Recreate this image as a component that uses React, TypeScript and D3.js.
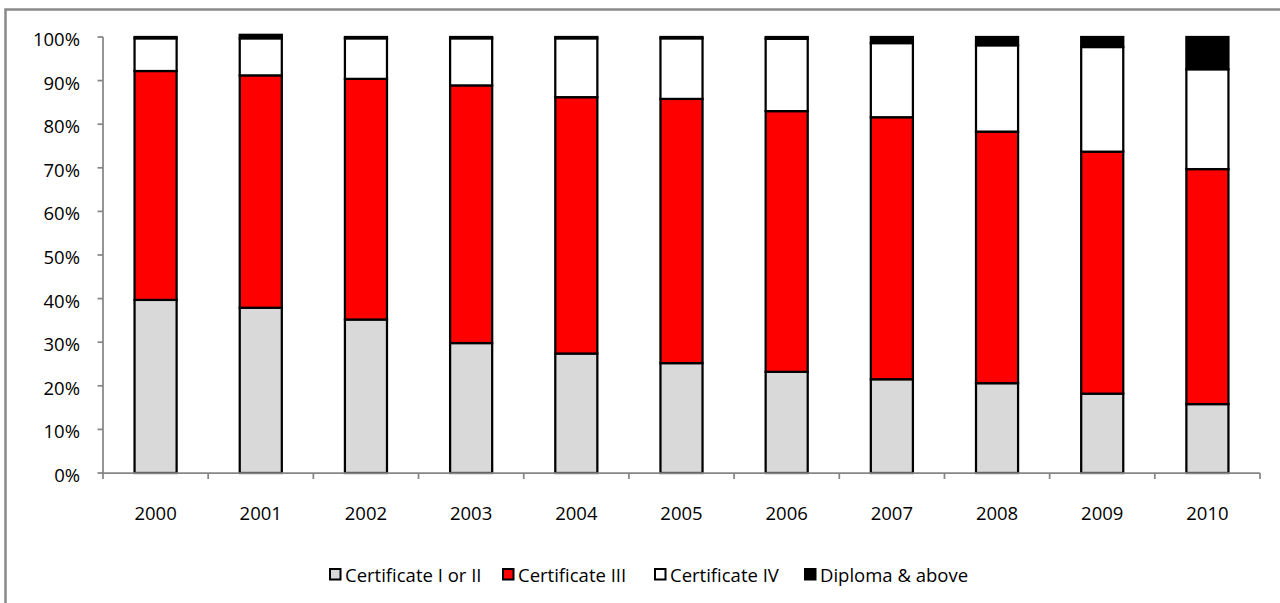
import React from "react";
import * as d3 from "d3";

// Share of qualifications by year (percent of total)
const years = ["2000", "2001", "2002", "2003", "2004", "2005", "2006", "2007", "2008", "2009", "2010"];
const certIorII = [39.7, 37.9, 35.2, 29.8, 27.4, 25.2, 23.2, 21.5, 20.6, 18.2, 15.8];
const certIII = [52.5, 53.3, 55.2, 59.1, 58.8, 60.6, 59.8, 60.1, 57.7, 55.5, 53.9];
const certIV = [7.5, 8.5, 9.3, 10.8, 13.5, 13.9, 16.6, 17.0, 19.8, 24.0, 22.9];
const diploma = [0.3, 0.8, 0.3, 0.3, 0.3, 0.3, 0.4, 1.4, 1.9, 2.3, 7.4];
const yTicks = [0, 10, 20, 30, 40, 50, 60, 70, 80, 90, 100];

const seriesNames = ["Certificate I or II", "Certificate III", "Certificate IV", "Diploma & above"];
const seriesColors = ["#D9D9D9", "#FF0000", "#FFFFFF", "#000000"];

const W = 1280;
const H = 603;
const FONT = "'Open Sans', sans-serif";
const AXIS = "#868686";

export default function App() {
  const rows = years.map((yr, i) => ({
    year: yr,
    [seriesNames[0]]: certIorII[i],
    [seriesNames[1]]: certIII[i],
    [seriesNames[2]]: certIV[i],
    [seriesNames[3]]: diploma[i],
  }));
  const stacked = d3.stack<any>().keys(seriesNames)(rows);

  const left = 103;
  const right = 1260;
  const bottom = 473;
  const top = 37;

  const x = d3.scaleBand<string>().domain(years).range([left, right]).paddingInner(0.6).paddingOuter(0.3);
  const y = d3.scaleLinear().domain([0, 100]).range([bottom, top]);
  const step = x.step();
  const boundaries = d3.range(years.length + 1).map((i) => left + i * step);

  const legendX = [330, 503, 655, 805];
  const legendY = 569;

  return (
    <svg width={W} height={H} style={{ position: "absolute", left: 0, top: 0, background: "#fff" }}>
      <rect x={5.5} y={9.5} width={1400} height={800} fill="#fff" stroke="#898989" strokeWidth={2.5} />

      {/* stacked bars */}
      {stacked.map((s, si) => (
        <g key={s.key}>
          {s.map((d, i) => (
            <rect
              key={i}
              x={x(years[i])}
              width={x.bandwidth()}
              y={y(d[1])}
              height={y(d[0]) - y(d[1])}
              fill={seriesColors[si]}
              stroke="#000"
              strokeWidth={2.25}
            />
          ))}
        </g>
      ))}

      {/* y axis */}
      <line x1={left} x2={left} y1={top} y2={bottom} stroke={AXIS} strokeWidth={1.75} />
      {yTicks.map((t) => (
        <g key={t}>
          <line x1={left - 5.5} x2={left} y1={y(t)} y2={y(t)} stroke={AXIS} strokeWidth={1.75} />
          <text x={80} y={y(t) + 9} textAnchor="end" fontFamily={FONT} fontSize={18.5} fill="#000">
            {t}%
          </text>
        </g>
      ))}

      {/* x axis */}
      <line x1={left} x2={right} y1={bottom} y2={bottom} stroke={AXIS} strokeWidth={1.75} />
      {boundaries.map((bx, i) => (
        <line key={i} x1={bx} x2={bx} y1={bottom} y2={bottom + 6} stroke={AXIS} strokeWidth={1.75} />
      ))}
      {years.map((yr) => (
        <text
          key={yr}
          x={(x(yr) as number) + x.bandwidth() / 2}
          y={519.5}
          textAnchor="middle"
          fontFamily={FONT}
          fontSize={18.5}
          fill="#000"
        >
          {yr}
        </text>
      ))}

      {/* legend */}
      {seriesNames.map((name, i) => (
        <g key={name}>
          <rect
            x={legendX[i]}
            y={legendY}
            width={10.5}
            height={10.5}
            fill={seriesColors[i]}
            stroke="#000"
            strokeWidth={2}
          />
          <text x={legendX[i] + 15} y={legendY + 12.5} fontFamily={FONT} fontSize={18.5} fill="#000">
            {name}
          </text>
        </g>
      ))}
    </svg>
  );
}
